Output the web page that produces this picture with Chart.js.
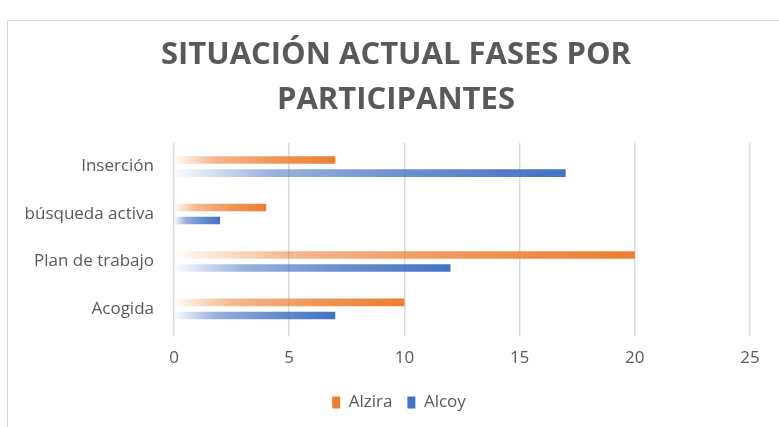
<!DOCTYPE html>
<html>
<head>
<meta charset="utf-8">
<script src="https://cdn.jsdelivr.net/npm/chart.js@4"></script>
<style>
  html, body { margin: 0; padding: 0; background: #fff; }
  #wrap { position: relative; width: 779px; height: 427px; }
  #frame { position: absolute; left: 7px; top: 20px; width: 800px; height: 420px;
           border-left: 1.5px solid #d9d9d9; border-top: 1.5px solid #d9d9d9; }
  canvas { position: absolute; left: 0; top: 0; }
</style>
</head>
<body>
<div id="wrap">
  <div id="frame"></div>
  <canvas id="chart" width="779" height="427"></canvas>
</div>
<script>
// categories top to bottom
const categories = ['Inserción', 'búsqueda activa', 'Plan de trabajo', 'Acogida'];
const alzira = [7, 4, 20, 10];
const alcoy  = [17, 2, 12, 7];
const titleLines = ['SITUACIÓN ACTUAL FASES POR', 'PARTICIPANTES'];

const ORANGE = [237, 125, 49];
const BLUE   = [68, 114, 196];

// horizontal fade from axis origin to the bar end
function fade(rgb) {
  return ctx => {
    const chart = ctx.chart;
    const solid = `rgb(${rgb.join(',')})`;
    if (!chart.chartArea || ctx.raw == null) return solid;
    const xs = chart.scales.x;
    const x0 = xs.getPixelForValue(0);
    const x1 = xs.getPixelForValue(ctx.raw);
    if (x1 - x0 < 1) return solid;
    const g = chart.ctx.createLinearGradient(x0, 0, x1, 0);
    g.addColorStop(0,    `rgba(${rgb.join(',')},0.02)`);
    g.addColorStop(0.25, `rgba(${rgb.join(',')},0.55)`);
    g.addColorStop(0.6,  `rgba(${rgb.join(',')},0.8)`);
    g.addColorStop(1,    `rgba(${rgb.join(',')},1)`);
    return g;
  };
}

// the frame in the original is wider than the plot, so title and legend sit a bit right of centre
const shiftBoxes = {
  id: 'shiftBoxes',
  afterLayout(chart) {
    const moves = [[chart.titleBlock, 21], [chart.legend, 24]];
    for (const [box, dx] of moves) {
      if (!box) continue;
      box.left += dx;
      box.right += dx;
    }
  },
};

const GREY = '#595959';
const FONT = 'Open Sans';

new Chart(document.getElementById('chart'), {
  type: 'bar',
  data: {
    labels: categories,
    datasets: [
      { label: 'Alzira', data: alzira, backgroundColor: fade(ORANGE), borderWidth: 0 },
      { label: 'Alcoy',  data: alcoy,  backgroundColor: fade(BLUE),   borderWidth: 0 },
    ],
  },
  options: {
    indexAxis: 'y',
    responsive: false,
    animation: false,
    devicePixelRatio: 1,
    categoryPercentage: 0.55,
    barPercentage: 0.58,
    layout: { padding: { left: 0, right: 29, top: 0, bottom: 6 } },
    plugins: {
      title: {
        display: true,
        text: titleLines,
        color: GREY,
        font: { family: FONT, size: 31, weight: 'bold', lineHeight: 1.45 },
        padding: { top: 33, bottom: 20 },
      },
      legend: {
        position: 'bottom',
        labels: {
          color: GREY,
          font: { family: FONT, size: 17 },
          boxWidth: 8,
          boxHeight: 12,
          padding: 15,
          generateLabels: chart => chart.data.datasets.map((ds, i) => ({
            text: ds.label,
            fillStyle: i === 0 ? '#ED7D31' : '#4472C4',
            strokeStyle: 'rgba(0,0,0,0)',
            lineWidth: 0,
            fontColor: GREY,
            datasetIndex: i,
          })),
        },
      },
      tooltip: { enabled: false },
    },
    scales: {
      x: {
        min: 0,
        max: 25,
        ticks: { stepSize: 5, color: GREY, font: { family: FONT, size: 17 }, padding: 11 },
        grid: { color: '#d9d9d9', lineWidth: 1.5, drawTicks: true, tickLength: 4 },
        border: { display: false },
      },
      y: {
        ticks: { color: GREY, font: { family: FONT, size: 17 }, padding: 20 },
        grid: { display: false, drawTicks: false },
        border: { display: false },
        afterFit: s => { s.width = 174; },
      },
    },
  },
  plugins: [shiftBoxes],
});
</script>
</body>
</html>
